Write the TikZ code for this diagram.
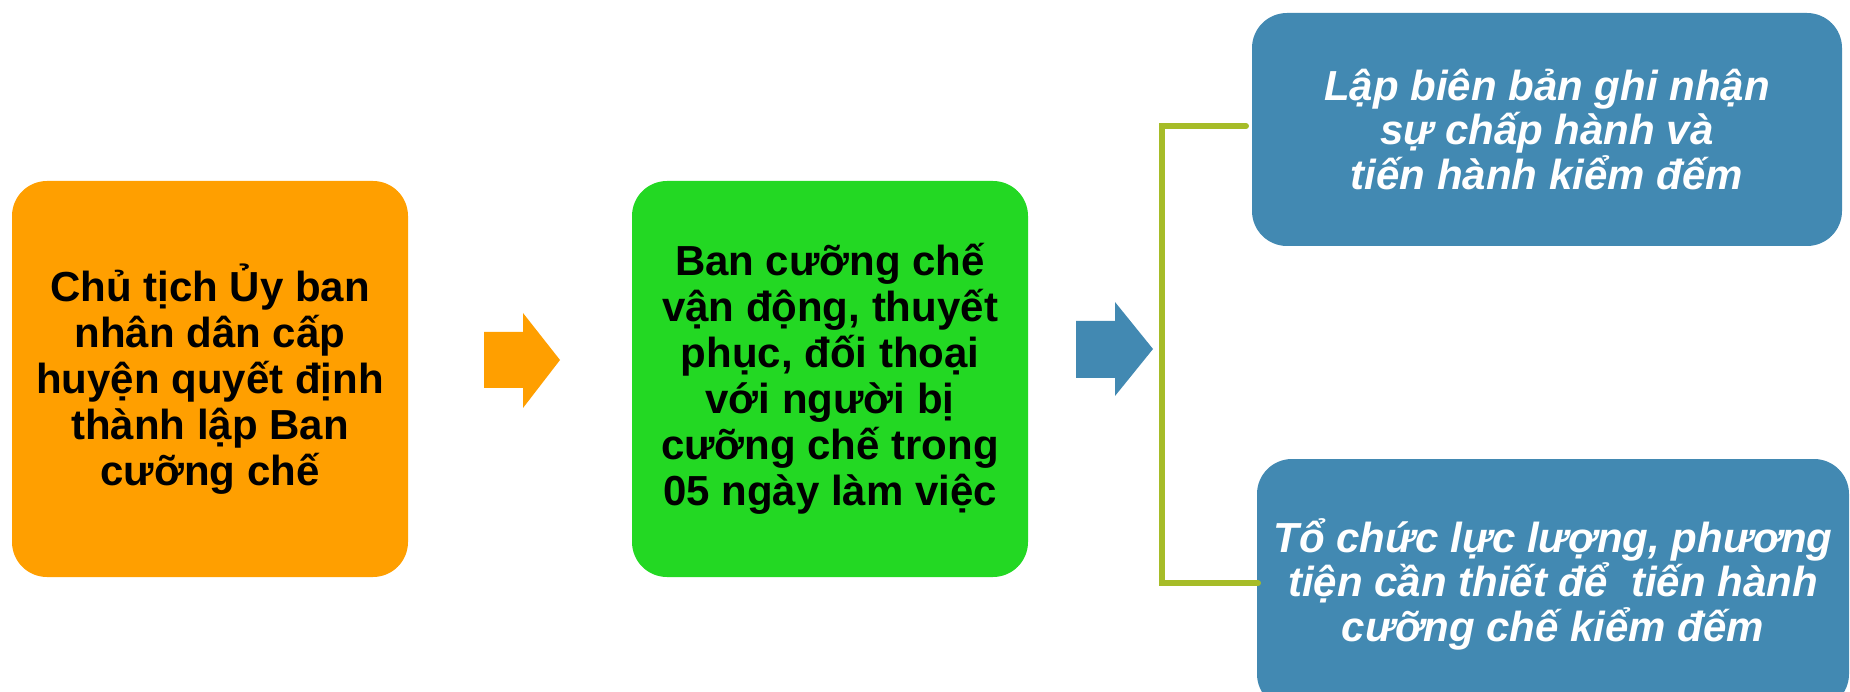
\documentclass[tikz,border=0pt]{standalone}
\usepackage{fontspec}
\setmainfont{Liberation Sans}
\definecolor{orng}{RGB}{255,159,0}
\definecolor{grn}{RGB}{35,216,35}
\definecolor{blu}{RGB}{66,137,178}
\definecolor{olive}{RGB}{166,188,40}
\begin{document}
\begin{tikzpicture}[x=1pt,y=-1pt,
  box/.style={rounded corners=35pt, align=center, inner sep=0pt},
  blackbox/.style={box, text=black, font=\bfseries\fontsize{42}{46}\selectfont},
  whitebox/.style={box, text=white, font=\bfseries\itshape\fontsize{42}{44.5}\selectfont},
  bracket/.style={draw=olive, line width=6pt}
]
\useasboundingbox (0,0) rectangle (1850,692);
\node[blackbox, fill=orng, minimum width=396pt, minimum height=396pt] (b1) at (210,379)
  {Chủ tịch Ủy ban\\nhân dân cấp\\huyện quyết định\\thành lập Ban\\cưỡng chế};
\node[blackbox, fill=grn, minimum width=396pt, minimum height=396pt] (b2) at (830,379)
  {Ban cưỡng chế\\vận động, thuyết\\phục, đối thoại\\với người bị\\cưỡng chế trong\\05 ngày làm việc};
\node[whitebox, fill=blu, minimum width=590pt, minimum height=233pt] (b3) at (1547,129.5)
  {Lập biên bản ghi nhận\\sự chấp hành và\\tiến hành kiểm đếm};
\node[whitebox, fill=blu, minimum width=592pt, minimum height=250pt] (b4) at (1553,584)
  {Tổ chức lực lượng, phương\\tiện cần thiết để\ \ tiến hành\\cưỡng chế kiểm đếm};
% arrows
\fill[orng] (484,332) -- (523,332) -- (523,313) -- (560,360) -- (523,408) -- (523,388) -- (484,388) -- cycle;
\fill[blu] (1076,321) -- (1115,321) -- (1115,302) -- (1153,349) -- (1115,396) -- (1115,378) -- (1076,378) -- cycle;
% bracket
\coordinate (bt) at (1246,126);
\coordinate (bb) at (1258,583);
\draw[bracket, line cap=round] (bt) -- (1162,126) -- (1162,583) -- (bb);
\end{tikzpicture}
\end{document}
